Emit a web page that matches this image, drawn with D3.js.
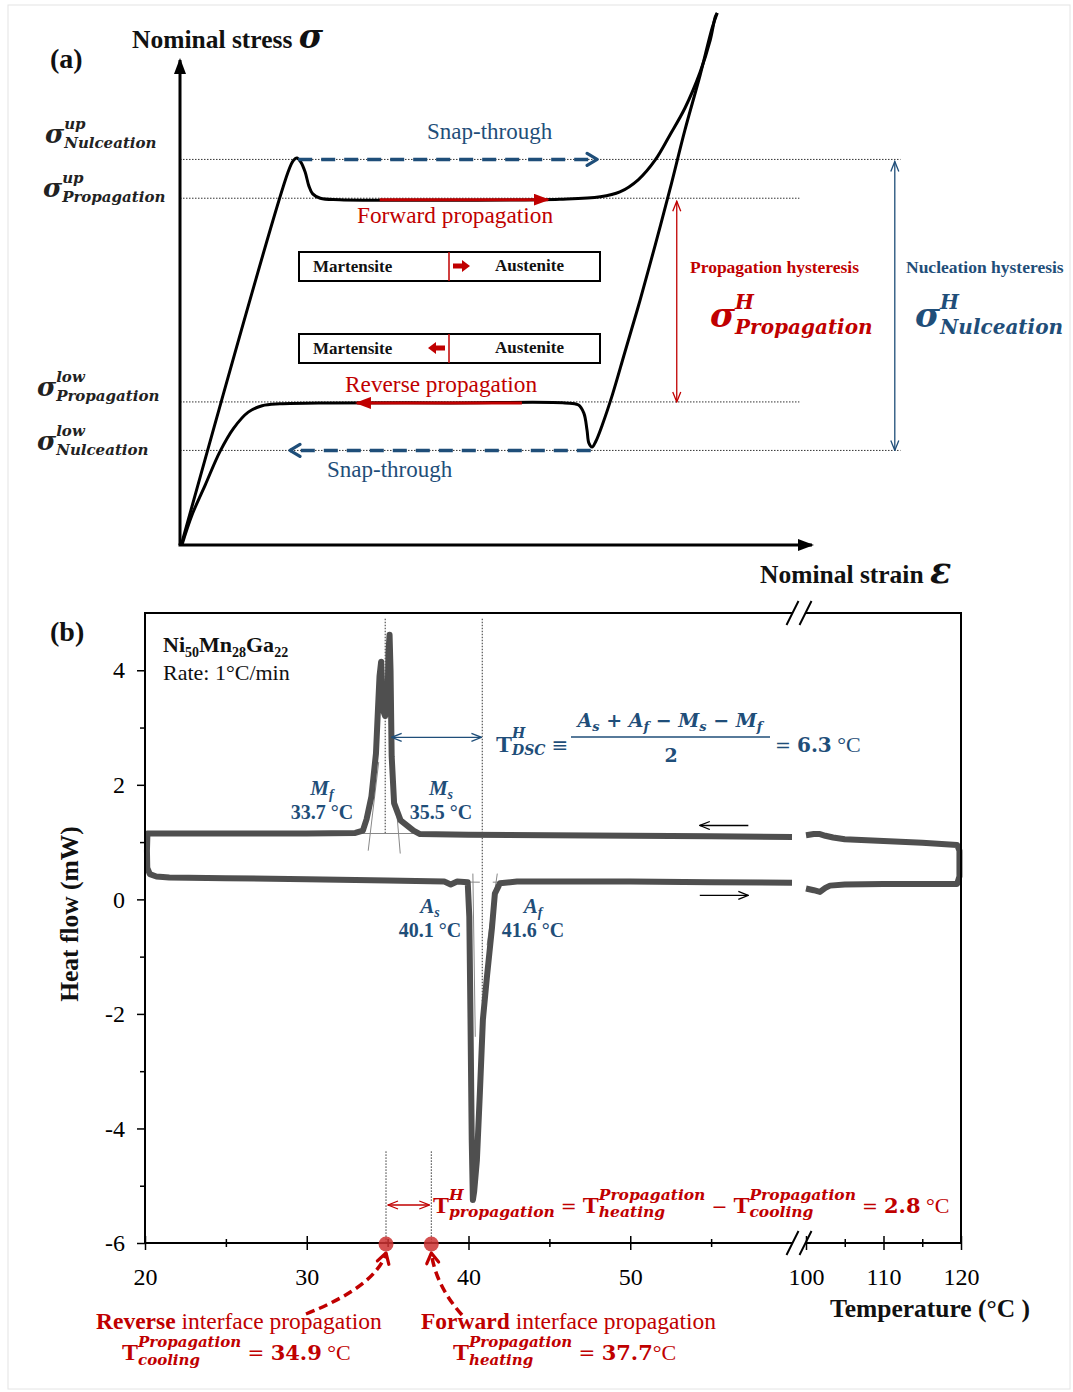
<!DOCTYPE html>
<html><head><meta charset="utf-8">
<script src="https://cdn.jsdelivr.net/npm/d3@7"></script>
<style>body{margin:0;background:#fff}svg{display:block}</style>
</head><body>
<script>
// ---------- panel (a): schematic stress-strain loop (arbitrary units) ----------
const loadStrain = [0.02, 1.71, 1.79, 1.85, 1.91, 1.98, 2.04, 2.10, 2.22, 2.53, 4.27, 6.01, 6.65, 6.96, 7.25, 7.52, 7.75, 7.99, 8.23, 8.39, 8.47, 8.50];
const loadStress = [0, 7.69, 7.92, 7.98, 7.90, 7.69, 7.40, 7.24, 7.15, 7.12, 7.11, 7.13, 7.18, 7.28, 7.53, 7.94, 8.45, 9.01, 9.75, 10.41, 10.89, 10.97];
const unloadStrain = [8.50, 8.42, 8.23, 7.99, 7.75, 7.52, 7.28, 7.04, 6.84, 6.68, 6.58, 6.52, 6.47, 6.44, 6.39, 6.30, 6.09, 4.27, 2.37, 1.58, 1.30, 1.08, 0.85, 0.63, 0.40, 0.19, 0.03];
const unloadStress = [10.97, 10.66, 9.69, 8.56, 7.32, 6.19, 5.05, 3.98, 3.09, 2.47, 2.14, 2.02, 2.10, 2.37, 2.72, 2.89, 2.93, 2.93, 2.93, 2.91, 2.87, 2.74, 2.41, 1.92, 1.24, 0.62, 0];
// nucleation up, propagation up, propagation low, nucleation low
const stressLevels = [7.95, 7.15, 2.95, 1.95];
const levelSup = ['up', 'up', 'low', 'low'];
const levelSub = ['Nulceation', 'Propagation', 'Propagation', 'Nulceation'];

// ---------- panel (b): DSC of Ni50Mn28Ga22 ----------
// left part of the axis: cooling 60 -> 20 then heating 20 -> 60
const leftTemp = [60, 55, 50, 45, 40, 37, 36.6, 35.8, 35.4, 35.25, 35.18, 35.12, 35.05, 35.0, 34.85, 34.72, 34.6, 34.5, 34.4, 34.28, 34.0, 33.7, 33.47, 33.0, 30, 25, 20.15, 20.12, 20.14, 20.3, 20.7, 21.5, 25, 30, 35, 38.5, 38.9, 39.3, 39.95, 40.05, 40.12, 40.2, 40.27, 40.35, 40.52, 40.7, 40.89, 41.14, 41.45, 41.63, 41.94, 43, 50, 55, 60];
const leftFlow = [1.09, 1.10, 1.11, 1.12, 1.13, 1.14, 1.2, 1.38, 1.68, 2.5, 4.0, 4.62, 4.3, 3.5, 3.2, 3.3, 4.15, 3.9, 3.3, 2.55, 1.8, 1.4, 1.2, 1.16, 1.15, 1.15, 1.15, 0.85, 0.55, 0.44, 0.40, 0.38, 0.37, 0.35, 0.33, 0.31, 0.26, 0.31, 0.30, -0.3, -2.0, -4.2, -5.25, -5.1, -4.55, -3.4, -2.1, -1.35, -0.5, 0.1, 0.28, 0.31, 0.31, 0.30, 0.29];
// right part of the axis: heating 100 -> 120 then cooling 120 -> 100
const rightTemp = [100, 101, 101.8, 102.5, 103.1, 105, 110, 115, 119.5, 119.8, 119.8, 119.5, 115, 110, 105, 103.5, 102.5, 101.8, 101, 100];
const rightFlow = [0.19, 0.16, 0.13, 0.2, 0.24, 0.26, 0.27, 0.27, 0.27, 0.4, 0.85, 0.95, 0.99, 1.02, 1.05, 1.08, 1.11, 1.14, 1.14, 1.12];
// onset tangent construction lines [t1, q1, t2, q2]
const tangentLines = [
  [32.2, 1.15, 37.5, 1.15], [33.8, 0.85, 34.45, 2.4], [35.78, 0.8, 35.3, 2.4],
  [36.2, 0.31, 40.7, 0.3], [41.5, 0.3, 45.2, 0.31], [40.27, 0.45, 40.42, -2.4], [41.78, 0.45, 41.15, -0.8]
];
const yTicksMajor = [-6, -4, -2, 0, 2, 4];
const yTicksMinor = [-5, -3, -1, 1, 3];
const xTicksLeft = [20, 30, 40, 50];
const xTicksLeftMinor = [25, 35, 45, 55];
const xTicksRight = [100, 110, 120];
const xTicksRightMinor = [105, 115];
const propTemps = [34.9, 37.7];   // cooling / heating interface propagation

const TIMES = "'Liberation Serif', 'Times New Roman', serif";
const MATH = "'DejaVu Serif', serif";
const BLUE = '#1f4e79', RED = '#c00000';

const svg = d3.select('body').append('svg')
  .attr('width', 1073).attr('height', 1392)
  .attr('font-family', TIMES);

svg.append('rect').attr('x', 8).attr('y', 5).attr('width', 1062).attr('height', 1384)
  .attr('fill', 'none').attr('stroke', '#e4e4e4');

const defs = svg.append('defs');
function marker(id, color, kind) {
  const m = defs.append('marker').attr('id', id)
    .attr('markerUnits', 'userSpaceOnUse').attr('orient', 'auto-start-reverse');
  if (kind === 'chevron') {
    m.attr('viewBox', '0 0 16 16').attr('markerWidth', 16).attr('markerHeight', 16).attr('refX', 13).attr('refY', 8);
    m.append('path').attr('d', 'M3,2 L13,8 L3,14').attr('fill', 'none').attr('stroke', color)
      .attr('stroke-width', 3.2).attr('stroke-linecap', 'round').attr('stroke-linejoin', 'round');
  } else if (kind === 'tri') {
    m.attr('viewBox', '0 0 16 12').attr('markerWidth', 16).attr('markerHeight', 12).attr('refX', 14).attr('refY', 6);
    m.append('path').attr('d', 'M0,0 L16,6 L0,12 Z').attr('fill', color);
  } else {
    m.attr('viewBox', '0 0 12 10').attr('markerWidth', 12).attr('markerHeight', 10).attr('refX', 11).attr('refY', 5);
    m.append('path').attr('d', 'M1,1 L11,5 L1,9').attr('fill', 'none').attr('stroke', color).attr('stroke-width', 1.3);
  }
}
marker('chevBlue', BLUE, 'chevron');
marker('chevRed', RED, 'chevron');
marker('triRed', RED, 'tri');
marker('triBlack', '#000', 'tri');
marker('thinRed', RED, 'thin');
marker('thinBlue', BLUE, 'thin');
marker('thinBlack', '#000', 'thin');

// rich text: runs of text with sub/superscripts, measured as they are laid out
function rich(parent, x, y, runs, fill, anchor) {
  const g = parent.append('g').attr('fill', fill);
  let cx = 0;
  const put = (txt, r, dy) => {
    const t = g.append('text').attr('x', cx).attr('y', dy || 0)
      .attr('font-family', r.f || TIMES).attr('font-size', r.s || 22)
      .attr('font-weight', r.w || 'normal').attr('font-style', r.i ? 'italic' : 'normal')
      .style('white-space', 'pre').text(txt);
    return t.node().getComputedTextLength();
  };
  runs.forEach(r => {
    if (r.gap) { cx += r.gap; return; }
    if (r.sup != null || r.sub != null) {
      const w1 = r.sup ? put(r.sup, r, r.supDy) : 0;
      const w2 = r.sub ? put(r.sub, r, r.subDy) : 0;
      cx += Math.max(w1, w2);
      return;
    }
    cx += put(r.t, r, r.dy);
  });
  const off = anchor === 'middle' ? -cx / 2 : anchor === 'end' ? -cx : 0;
  g.attr('transform', `translate(${x + off},${y})`);
  return cx;
}
const mb = s => ({ f: MATH, s, w: 'bold', i: true });

// =================== (a) ===================
const xA = d3.scaleLinear().domain([0, 10]).range([180, 812]);
const yA = d3.scaleLinear().domain([0, 10]).range([545, 60]);
const gA = svg.append('g');

const levelEnd = [11.4, 9.8, 9.8, 11.4];
gA.selectAll('line.level').data(stressLevels).join('line')
  .attr('x1', xA(0)).attr('x2', (d, i) => xA(levelEnd[i]))
  .attr('y1', d => yA(d)).attr('y2', d => yA(d))
  .attr('stroke', '#333').attr('stroke-width', 1).attr('stroke-dasharray', '1.5,1.5');

const lineA = d3.line().x(d => xA(d[0])).y(d => yA(d[1])).curve(d3.curveCatmullRom.alpha(0.5));
[[loadStrain, loadStress], [unloadStrain, unloadStress]].forEach(([xs, ys]) => {
  gA.append('path').datum(d3.zip(xs, ys)).attr('d', lineA)
    .attr('fill', 'none').attr('stroke', '#000').attr('stroke-width', 3).attr('stroke-linejoin', 'round');
});

// axes
gA.append('line').attr('x1', xA(0)).attr('y1', yA(0)).attr('x2', xA(0)).attr('y2', yA(10))
  .attr('stroke', '#000').attr('stroke-width', 3).attr('marker-end', 'url(#triBlack)');
gA.append('line').attr('x1', xA(0) - 1.5).attr('y1', yA(0)).attr('x2', xA(10)).attr('y2', yA(0))
  .attr('stroke', '#000').attr('stroke-width', 3).attr('marker-end', 'url(#triBlack)');

rich(gA, 50, 68, [{ t: '(a)', s: 28, w: 'bold' }], '#111');
rich(gA, 132, 48, [{ t: 'Nominal stress ', s: 25.5, w: 'bold' }, { t: 'σ', ...mb(33) }], '#111');
rich(gA, 760, 583, [{ t: 'Nominal strain ', s: 25.5, w: 'bold' }, { t: 'ε', ...mb(35) }], '#111');

// sigma labels on the left
const sigPos = [[45, 143], [43, 197], [37, 396], [37, 450]];
stressLevels.forEach((s, i) => {
  rich(gA, sigPos[i][0], sigPos[i][1], [
    { t: 'σ', ...mb(26) },
    { sup: levelSup[i], sub: levelSub[i], ...mb(15), supDy: -14, subDy: 5 }
  ], '#222');
});

// snap-through (dashed blue) and propagation (red) arrows
gA.append('line').attr('x1', xA(1.87)).attr('x2', xA(6.6)).attr('y1', yA(stressLevels[0])).attr('y2', yA(stressLevels[0]))
  .attr('stroke', BLUE).attr('stroke-width', 3.5).attr('stroke-dasharray', '14,9').attr('marker-end', 'url(#chevBlue)');
gA.append('line').attr('x1', xA(6.5)).attr('x2', xA(1.74)).attr('y1', yA(stressLevels[3])).attr('y2', yA(stressLevels[3]))
  .attr('stroke', BLUE).attr('stroke-width', 3.5).attr('stroke-dasharray', '14,9').attr('marker-end', 'url(#chevBlue)');
gA.append('line').attr('x1', xA(3.16)).attr('x2', xA(5.82)).attr('y1', yA(7.12)).attr('y2', yA(7.12))
  .attr('stroke', RED).attr('stroke-width', 3).attr('marker-end', 'url(#triRed)');
gA.append('line').attr('x1', xA(5.41)).attr('x2', xA(2.80)).attr('y1', yA(2.93)).attr('y2', yA(2.93))
  .attr('stroke', RED).attr('stroke-width', 3).attr('marker-end', 'url(#triRed)');

rich(gA, 427, 139, [{ t: 'Snap-through', s: 23 }], BLUE);
rich(gA, 327, 477, [{ t: 'Snap-through', s: 23 }], BLUE);
rich(gA, 357, 223, [{ t: 'Forward propagation', s: 23.3 }], RED);
rich(gA, 345, 392, [{ t: 'Reverse propagation', s: 23.3 }], RED);

// martensite / austenite boxes
[[252, 1], [334, -1]].forEach(([top, dir]) => {
  gA.append('rect').attr('x', 299).attr('y', top).attr('width', 301).attr('height', 29)
    .attr('fill', '#fff').attr('stroke', '#000').attr('stroke-width', 2);
  gA.append('line').attr('x1', 449).attr('x2', 449).attr('y1', top).attr('y2', top + 29)
    .attr('stroke', RED).attr('stroke-width', 1.5);
  const cy = top + 14, x0 = dir > 0 ? 453 : 445;
  gA.append('path')
    .attr('d', `M${x0},${cy - 2.5} h${dir * 9} v-3.5 l${dir * 8},6 l${-dir * 8},6 v-3.5 h${-dir * 9} Z`)
    .attr('fill', RED);
  rich(gA, 313, top + 20, [{ t: 'Martensite', s: 17, w: 'bold' }], '#111');
  rich(gA, 495, top + 19, [{ t: 'Austenite', s: 17, w: 'bold' }], '#111');
});

// hysteresis double arrows
gA.append('line').attr('x1', xA(7.86)).attr('x2', xA(7.86)).attr('y1', yA(stressLevels[1]) + 3).attr('y2', yA(stressLevels[2]))
  .attr('stroke', RED).attr('stroke-width', 1.3).attr('marker-start', 'url(#thinRed)').attr('marker-end', 'url(#thinRed)');
gA.append('line').attr('x1', xA(11.31)).attr('x2', xA(11.31)).attr('y1', yA(stressLevels[0]) + 2).attr('y2', yA(stressLevels[3]))
  .attr('stroke', BLUE).attr('stroke-width', 1.3).attr('marker-start', 'url(#thinBlue)').attr('marker-end', 'url(#thinBlue)');

rich(gA, 690, 273, [{ t: 'Propagation hysteresis', s: 17.5, w: 'bold' }], RED);
rich(gA, 906, 273, [{ t: 'Nucleation hysteresis', s: 17.5, w: 'bold' }], BLUE);
rich(gA, 710, 327, [{ t: 'σ', ...mb(34) }, { sup: 'H', sub: 'Propagation', ...mb(20), supDy: -18, subDy: 7 }], RED);
rich(gA, 915, 327, [{ t: 'σ', ...mb(34) }, { sup: 'H', sub: 'Nulceation', ...mb(20), supDy: -18, subDy: 7 }], BLUE);

// =================== (b) ===================
const xL = d3.scaleLinear().domain([20, 60]).range([145, 792]);
const xR = d3.scaleLinear().domain([100, 120]).range([806, 961]);
const yB = d3.scaleLinear().domain([-6, 5]).range([1243, 613]);
const gB = svg.append('g');

// guide lines
const dotted = (x1, y1, x2, y2) => gB.append('line').attr('x1', x1).attr('y1', y1).attr('x2', x2).attr('y2', y2)
  .attr('stroke', '#333').attr('stroke-width', 1).attr('stroke-dasharray', '1.5,1.5');
dotted(xL(34.85), yB(4.9), xL(34.85), yB(1.15));
dotted(xL(40.85), yB(4.9), xL(40.85), yB(-1.8));
propTemps.forEach(t => dotted(xL(t), yB(-4.4), xL(t), yB(-6)));

gB.selectAll('line.tan').data(tangentLines).join('line')
  .attr('x1', d => xL(d[0])).attr('y1', d => yB(d[1])).attr('x2', d => xL(d[2])).attr('y2', d => yB(d[3]))
  .attr('stroke', '#888').attr('stroke-width', 1);

// DSC traces
const traceL = d3.line().x(d => xL(d[0])).y(d => yB(d[1]));
const traceR = d3.line().x(d => xR(d[0])).y(d => yB(d[1]));
gB.append('path').datum(d3.zip(leftTemp, leftFlow)).attr('d', traceL)
  .attr('fill', 'none').attr('stroke', '#4f4f4f').attr('stroke-width', 6).attr('stroke-linejoin', 'round').attr('stroke-linecap', 'butt');
gB.append('path').datum(d3.zip(rightTemp, rightFlow)).attr('d', traceR)
  .attr('fill', 'none').attr('stroke', '#4f4f4f').attr('stroke-width', 6).attr('stroke-linejoin', 'round').attr('stroke-linecap', 'butt');

// frame
const frame = gB.append('g').attr('stroke', '#000').attr('stroke-width', 2).attr('fill', 'none');
frame.append('rect').attr('x', xL(20)).attr('y', yB(5)).attr('width', xR(120) - xL(20)).attr('height', yB(-6) - yB(5));

// axes and ticks
function styleAxis(g) {
  g.select('.domain').remove();
  g.selectAll('line').attr('stroke', '#000').attr('stroke-width', 1.5);
  g.selectAll('text').attr('font-family', TIMES).attr('font-size', 24).attr('fill', '#000');
}
[[xL, xTicksLeft, xTicksLeftMinor], [xR, xTicksRight, xTicksRightMinor]].forEach(([sc, maj, min]) => {
  gB.append('g').attr('transform', `translate(0,${yB(-6)})`)
    .call(d3.axisBottom(sc).tickValues(maj).tickSize(7).tickPadding(18).tickFormat(String)).call(styleAxis);
  gB.append('g').attr('transform', `translate(0,${yB(-6)})`)
    .call(d3.axisTop(sc).tickValues(maj).tickSize(7).tickFormat('')).call(styleAxis);
  gB.append('g').attr('transform', `translate(0,${yB(-6)})`)
    .call(d3.axisBottom(sc).tickValues(min).tickSize(4).tickFormat('')).call(styleAxis);
  gB.append('g').attr('transform', `translate(0,${yB(-6)})`)
    .call(d3.axisTop(sc).tickValues(min).tickSize(4).tickFormat('')).call(styleAxis);
});
gB.append('g').attr('transform', `translate(${xL(20)},0)`)
  .call(d3.axisLeft(yB).tickValues(yTicksMajor).tickSize(8).tickPadding(12).tickFormat(String)).call(styleAxis);
gB.append('g').attr('transform', `translate(${xL(20)},0)`)
  .call(d3.axisLeft(yB).tickValues(yTicksMinor).tickSize(5).tickFormat('')).call(styleAxis);

// axis breaks
const bx = (xL(60) + xR(100)) / 2;
[yB(5), yB(-6)].forEach(y => {
  gB.append('rect').attr('x', bx - 6).attr('y', y - 3).attr('width', 12).attr('height', 6).attr('fill', '#fff');
  [-6.5, 6.5].forEach(o => gB.append('line')
    .attr('x1', bx + o - 6).attr('y1', y + 12).attr('x2', bx + o + 6).attr('y2', y - 12)
    .attr('stroke', '#000').attr('stroke-width', 2));
});

// axis titles
gB.append('text').attr('transform', 'translate(78,914) rotate(-90)')
  .attr('text-anchor', 'middle').attr('font-size', 25.5).attr('font-weight', 'bold').attr('fill', '#111')
  .text('Heat flow (mW)');
rich(gB, 830, 1317, [{ t: 'Temperature (°C )', s: 25.5, w: 'bold' }], '#111');
rich(gB, 50, 641, [{ t: '(b)', s: 28, w: 'bold' }], '#111');

rich(gB, 163, 652, [
  { t: 'Ni', s: 22, w: 'bold' }, { t: '50', s: 14, w: 'bold', dy: 5 },
  { t: 'Mn', s: 22, w: 'bold' }, { t: '28', s: 14, w: 'bold', dy: 5 },
  { t: 'Ga', s: 22, w: 'bold' }, { t: '22', s: 14, w: 'bold', dy: 5 }
], '#111');
rich(gB, 163, 680, [{ t: 'Rate: 1°C/min', s: 22 }], '#111');

// characteristic temperatures
const charLab = [['M', 'f', '33.7', 322, 795], ['M', 's', '35.5', 441, 795], ['A', 's', '40.1', 430, 913], ['A', 'f', '41.6', 533, 913]];
charLab.forEach(([a, b, v, x, y]) => {
  rich(gB, x, y, [{ t: a, s: 21, w: 'bold', i: true }, { t: b, s: 14, w: 'bold', i: true, dy: 4 }], BLUE, 'middle');
  rich(gB, x, y + 24, [{ t: v + ' °C', s: 20, w: 'bold' }], BLUE, 'middle');
});

// DSC hysteresis
gB.append('line').attr('x1', xL(35.25)).attr('x2', xL(40.8)).attr('y1', yB(2.83)).attr('y2', yB(2.83))
  .attr('stroke', BLUE).attr('stroke-width', 1.3).attr('marker-start', 'url(#thinBlue)').attr('marker-end', 'url(#thinBlue)');
rich(gB, 496, 752, [
  { t: 'T', s: 24, w: 'bold' }, { sup: 'H', sub: 'DSC', ...mb(14), supDy: -14, subDy: 3 },
  { gap: 6 }, { t: '≡', f: "'DejaVu Sans'", s: 20 }
], BLUE);
rich(gB, 670, 727, [
  { t: 'A', ...mb(19) }, { t: 's', ...mb(13), dy: 4 }, { t: ' + ', f: MATH, s: 19, w: 'bold' },
  { t: 'A', ...mb(19) }, { t: 'f', ...mb(13), dy: 4 }, { t: ' − ', f: MATH, s: 19, w: 'bold' },
  { t: 'M', ...mb(19) }, { t: 's', ...mb(13), dy: 4 }, { t: ' − ', f: MATH, s: 19, w: 'bold' },
  { t: 'M', ...mb(19) }, { t: 'f', ...mb(13), dy: 4 }
], BLUE, 'middle');
gB.append('line').attr('x1', 571).attr('x2', 770).attr('y1', 737).attr('y2', 737).attr('stroke', BLUE).attr('stroke-width', 1.5);
rich(gB, 671, 762, [{ t: '2', f: MATH, s: 19, w: 'bold' }], BLUE, 'middle');
rich(gB, 775, 752, [{ t: '= ', f: MATH, s: 19 }, { t: '6.3', f: MATH, s: 20, w: 'bold' }, { t: ' °C', s: 22 }], BLUE);

// direction arrows
gB.append('line').attr('x1', xL(57.3)).attr('x2', xL(54.3)).attr('y1', yB(1.29)).attr('y2', yB(1.29))
  .attr('stroke', '#000').attr('stroke-width', 1.3).attr('marker-end', 'url(#thinBlack)');
gB.append('line').attr('x1', xL(54.3)).attr('x2', xL(57.3)).attr('y1', yB(0.07)).attr('y2', yB(0.07))
  .attr('stroke', '#000').attr('stroke-width', 1.3).attr('marker-end', 'url(#thinBlack)');

// propagation hysteresis (red)
gB.append('line').attr('x1', xL(propTemps[0]) + 2).attr('x2', xL(propTemps[1]) - 2).attr('y1', 1205).attr('y2', 1205)
  .attr('stroke', RED).attr('stroke-width', 1.3).attr('marker-start', 'url(#thinRed)').attr('marker-end', 'url(#thinRed)');
rich(gB, 433, 1213, [
  { t: 'T', s: 24, w: 'bold' }, { sup: 'H', sub: 'propagation', ...mb(15.5), supDy: -13, subDy: 4 },
  { t: ' = ', f: MATH, s: 19 },
  { t: 'T', s: 24, w: 'bold' }, { sup: 'Propagation', sub: 'heating', ...mb(15.5), supDy: -13, subDy: 4 },
  { t: ' − ', f: MATH, s: 19 },
  { t: 'T', s: 24, w: 'bold' }, { sup: 'Propagation', sub: 'cooling', ...mb(15.5), supDy: -13, subDy: 4 },
  { t: ' = ', f: MATH, s: 19 }, { t: '2.8', f: MATH, s: 21, w: 'bold' }, { t: ' °C', s: 22 }
], RED);

// propagation temperatures on the axis
[[propTemps[0], 'M306,1314 Q376,1286'], [propTemps[1], 'M462,1315 Q436,1286']].forEach(([t, start]) => {
  gB.append('path').attr('d', `${start} ${xL(t)},${yB(-6) + 10}`)
    .attr('fill', 'none').attr('stroke', RED).attr('stroke-width', 3.5).attr('stroke-dasharray', '9,5')
    .attr('marker-end', 'url(#chevRed)');
});
gB.selectAll('circle.prop').data(propTemps).join('circle')
  .attr('cx', d => xL(d)).attr('cy', yB(-6) + 1).attr('r', 7.5)
  .attr('fill', '#cc3333').attr('fill-opacity', 0.85);

rich(gB, 96, 1329, [{ t: 'Reverse', s: 23.5, w: 'bold' }, { t: ' interface propagation', s: 23.5 }], RED);
rich(gB, 122, 1360, [
  { t: 'T', s: 24, w: 'bold' }, { sup: 'Propagation', sub: 'cooling', ...mb(15), supDy: -13, subDy: 5 },
  { t: ' = ', f: MATH, s: 20 }, { t: '34.9', f: MATH, s: 21, w: 'bold' }, { t: ' °C', s: 22 }
], RED);
rich(gB, 421, 1329, [{ t: 'Forward', s: 23.5, w: 'bold' }, { t: ' interface propagation', s: 23.5 }], RED);
rich(gB, 453, 1360, [
  { t: 'T', s: 24, w: 'bold' }, { sup: 'Propagation', sub: 'heating', ...mb(15), supDy: -13, subDy: 5 },
  { t: ' = ', f: MATH, s: 20 }, { t: '37.7', f: MATH, s: 21, w: 'bold' }, { t: '°C', s: 22 }
], RED);
</script>
</body></html>
